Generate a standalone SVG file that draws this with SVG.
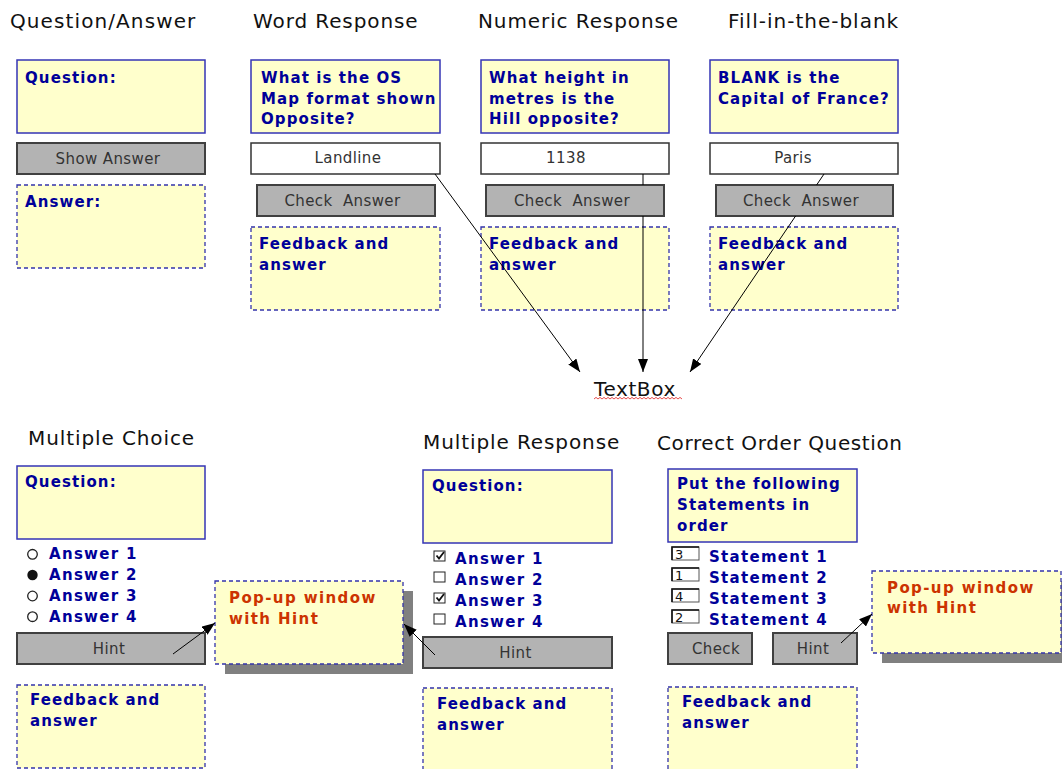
<svg xmlns="http://www.w3.org/2000/svg" width="1062" height="769" viewBox="0 0 1062 769">
<style>
.q{fill:#ffffcc;stroke:#3535b5;stroke-width:1.5}
.fb{fill:#ffffcc;stroke:#3333aa;stroke-width:1.3;stroke-dasharray:4 3}
.btn{fill:#b3b3b3;stroke:#404040;stroke-width:2}
.fld{fill:#ffffff;stroke:#333333;stroke-width:1.5}
.sh{fill:#808080}
.title{font-family:"DejaVu Sans","Liberation Sans",sans-serif;font-size:20px;fill:#111111;letter-spacing:0.9px}
.bt{font-family:"DejaVu Sans","Liberation Sans",sans-serif;font-size:15px;font-weight:bold;fill:#000099;letter-spacing:1.1px}
.pop{font-family:"DejaVu Sans","Liberation Sans",sans-serif;font-size:15px;font-weight:bold;fill:#cc3300;letter-spacing:1.4px}
.bx{font-family:"DejaVu Sans","Liberation Sans",sans-serif;font-size:15px;fill:#333333;letter-spacing:0.4px;text-anchor:middle}
.num{font-family:"DejaVu Sans","Liberation Sans",sans-serif;font-size:13px;fill:#111111}
.nb{fill:#ffffff;stroke:#555555;stroke-width:1}
.nbe{fill:none;stroke:#111111;stroke-width:1.6}
.rad{fill:#ffffff;stroke:#222222;stroke-width:1.3}
.chk{fill:#ffffff;stroke:#222222;stroke-width:1}
.conn{fill:none;stroke:#000000;stroke-width:1}
</style>
<defs>
<marker id="ah" markerUnits="userSpaceOnUse" markerWidth="13" markerHeight="10" refX="13" refY="5" orient="auto">
<path d="M0,0 L13,5 L0,10 z" fill="#000000"/>
</marker>
<clipPath id="wrclip"><rect x="251" y="60" width="189" height="73"/></clipPath>
</defs>
<rect width="1062" height="769" fill="#ffffff"/>

<g id="titles">
<text class="title" x="10" y="28" style="letter-spacing:1.1px">Question/Answer</text>
<text class="title" x="253" y="28">Word Response</text>
<text class="title" x="478" y="28">Numeric Response</text>
<text class="title" x="728" y="28" style="letter-spacing:1px">Fill-in-the-blank</text>
<text class="title" x="28" y="445">Multiple Choice</text>
<text class="title" x="423" y="449">Multiple Response</text>
<text class="title" x="657" y="450" style="letter-spacing:0.62px">Correct Order Question</text>
</g>

<!-- Question/Answer -->
<g id="qa-question"><rect class="q" x="17" y="60" width="188" height="73"/><text class="bt" x="25" y="82.5">Question:</text></g>
<g id="qa-answer"><rect class="fb" x="17" y="185" width="188" height="83"/><text class="bt" x="25" y="207">Answer:</text></g>

<!-- Word Response -->
<g id="wr-question"><rect class="q" x="251" y="60" width="189" height="73"/>
<g clip-path="url(#wrclip)"><text class="bt" x="261" y="82.5">What is the OS</text><text class="bt" x="261" y="103.5">Map format shown</text><text class="bt" x="261" y="124">Opposite?</text></g></g>
<g id="wr-field"><rect class="fld" x="251" y="143" width="189" height="31"/><text class="bx" x="348" y="163">Landline</text></g>
<g id="wr-feedback"><rect class="fb" x="251" y="227" width="189" height="83"/><text class="bt" x="259" y="249">Feedback and</text><text class="bt" x="259" y="270">answer</text></g>

<!-- Numeric Response -->
<g id="nr-question"><rect class="q" x="481" y="60" width="188" height="73"/><text class="bt" x="489" y="82.5">What height in</text><text class="bt" x="489" y="103.5">metres is the</text><text class="bt" x="489" y="124">Hill opposite?</text></g>
<g id="nr-field"><rect class="fld" x="481" y="143" width="188" height="31"/><text class="bx" x="566" y="163">1138</text></g>
<g id="nr-feedback"><rect class="fb" x="481" y="227" width="188" height="83"/><text class="bt" x="489" y="249">Feedback and</text><text class="bt" x="489" y="270">answer</text></g>

<!-- Fill in the blank -->
<g id="fb-question"><rect class="q" x="710" y="60" width="188" height="73"/><text class="bt" x="718" y="82.5">BLANK is the</text><text class="bt" x="718" y="103.5">Capital of France?</text></g>
<g id="fb-field"><rect class="fld" x="710" y="143" width="188" height="31"/><text class="bx" x="793" y="163">Paris</text></g>
<g id="fb-feedback"><rect class="fb" x="710" y="227" width="188" height="83"/><text class="bt" x="718" y="249">Feedback and</text><text class="bt" x="718" y="270">answer</text></g>

<!-- TextBox label -->
<g id="textbox">
<text class="title" x="594" y="396" style="letter-spacing:0.6px">TextBox</text>
<path d="M594 399 l2 -1.6 l2 1.6 l2 -1.6 l2 1.6 l2 -1.6 l2 1.6 l2 -1.6 l2 1.6 l2 -1.6 l2 1.6 l2 -1.6 l2 1.6 l2 -1.6 l2 1.6 l2 -1.6 l2 1.6 l2 -1.6 l2 1.6 l2 -1.6 l2 1.6 l2 -1.6 l2 1.6 l2 -1.6 l2 1.6 l2 -1.6 l2 1.6 l2 -1.6 l2 1.6 l2 -1.6 l2 1.6 l2 -1.6 l2 1.6 l2 -1.6 l2 1.6 l2 -1.6 l2 1.6 l2 -1.6 l2 1.6 l2 -1.6 l2 1.6 l2 -1.6 l2 1.6 l2 -1.6 l2 1.6" fill="none" stroke="#e02020" stroke-width="0.8"/>
</g>

<!-- Multiple Choice -->
<g id="mc-question"><rect class="q" x="17" y="466" width="188" height="73"/><text class="bt" x="25" y="487">Question:</text></g>
<g id="mc-options">
<circle class="rad" cx="32.5" cy="554.3" r="4.8"/>
<circle cx="32.5" cy="575" r="5.2" fill="#111111"/>
<circle class="rad" cx="32.5" cy="596" r="4.8"/>
<circle class="rad" cx="32.5" cy="616.7" r="4.8"/>
<text class="bt" x="49" y="559" style="letter-spacing:1.3px">Answer 1</text>
<text class="bt" x="49" y="580" style="letter-spacing:1.3px">Answer 2</text>
<text class="bt" x="49" y="601" style="letter-spacing:1.3px">Answer 3</text>
<text class="bt" x="49" y="622" style="letter-spacing:1.3px">Answer 4</text>
</g>
<g id="mc-feedback"><rect class="fb" x="17" y="685" width="188" height="83"/><text class="bt" x="30" y="705">Feedback and</text><text class="bt" x="30" y="726">answer</text></g>
<g id="mc-popup"><rect class="sh" x="225" y="591" width="188" height="83"/><rect class="fb" x="215" y="581" width="188" height="83"/><text class="pop" x="229" y="603">Pop-up window</text><text class="pop" x="229" y="624">with Hint</text></g>

<!-- Multiple Response -->
<g id="mr-question"><rect class="q" x="423" y="470" width="189" height="73"/><text class="bt" x="432" y="491">Question:</text></g>
<g id="mr-options">
<rect class="chk" x="434" y="551" width="11" height="10"/>
<path d="M436.5 555.5 L439 558.5 L444 552" fill="none" stroke="#111111" stroke-width="1.8"/>
<rect class="chk" x="434" y="572" width="11" height="10"/>
<rect class="chk" x="434" y="593" width="11" height="10"/>
<path d="M436.5 597.5 L439 600.5 L444 594" fill="none" stroke="#111111" stroke-width="1.8"/>
<rect class="chk" x="434" y="614" width="11" height="10"/>
<text class="bt" x="455" y="564" style="letter-spacing:1.3px">Answer 1</text>
<text class="bt" x="455" y="585" style="letter-spacing:1.3px">Answer 2</text>
<text class="bt" x="455" y="606" style="letter-spacing:1.3px">Answer 3</text>
<text class="bt" x="455" y="627" style="letter-spacing:1.3px">Answer 4</text>
</g>
<g id="mr-feedback"><rect class="fb" x="423" y="688" width="189" height="83"/><text class="bt" x="437" y="709">Feedback and</text><text class="bt" x="437" y="730">answer</text></g>

<!-- Correct Order -->
<g id="co-question"><rect class="q" x="668" y="469" width="189" height="73"/><text class="bt" x="677" y="489">Put the following</text><text class="bt" x="677" y="510">Statements in</text><text class="bt" x="677" y="531">order</text></g>
<g id="co-statements">
<rect class="nb" x="672" y="547" width="27" height="13"/><path class="nbe" d="M672 560 V547 H699"/><text class="num" x="675" y="559">3</text>
<rect class="nb" x="672" y="568" width="27" height="13"/><path class="nbe" d="M672 581 V568 H699"/><text class="num" x="675" y="580">1</text>
<rect class="nb" x="672" y="589" width="27" height="13"/><path class="nbe" d="M672 602 V589 H699"/><text class="num" x="675" y="601">4</text>
<rect class="nb" x="672" y="610" width="27" height="13"/><path class="nbe" d="M672 623 V610 H699"/><text class="num" x="675" y="622">2</text>
<text class="bt" x="709" y="562" style="letter-spacing:1.3px">Statement 1</text>
<text class="bt" x="709" y="583" style="letter-spacing:1.3px">Statement 2</text>
<text class="bt" x="709" y="604" style="letter-spacing:1.3px">Statement 3</text>
<text class="bt" x="709" y="625" style="letter-spacing:1.3px">Statement 4</text>
</g>
<g id="co-feedback"><rect class="fb" x="668" y="687" width="189" height="83"/><text class="bt" x="682" y="707">Feedback and</text><text class="bt" x="682" y="728">answer</text></g>
<g id="co-popup"><rect class="sh" x="882" y="581" width="180" height="82"/><rect class="fb" x="872" y="571" width="189" height="82"/><text class="pop" x="887" y="593">Pop-up window</text><text class="pop" x="887" y="613">with Hint</text></g>

<!-- Buttons -->
<g id="qa-button"><rect class="btn" x="17" y="143" width="188" height="31"/><text class="bx" x="108" y="163.5">Show Answer</text></g>
<g id="wr-button"><rect class="btn" x="257" y="185" width="178" height="31"/><text class="bx" x="342.5" y="205.5">Check&#160; Answer</text></g>
<g id="nr-button"><rect class="btn" x="486" y="185" width="178" height="31"/><text class="bx" x="572" y="205.5">Check&#160; Answer</text></g>
<g id="fb-button"><rect class="btn" x="716" y="185" width="177" height="31"/><text class="bx" x="801" y="205.5">Check&#160; Answer</text></g>
<g id="mc-button"><rect class="btn" x="17" y="633" width="188" height="31"/><text class="bx" x="109" y="653.5">Hint</text></g>
<g id="mr-button"><rect class="btn" x="423" y="637" width="189" height="31"/><text class="bx" x="515.5" y="657.5">Hint</text></g>
<g id="co-check"><rect class="btn" x="668" y="633" width="84" height="31"/><text class="bx" x="716" y="653.5">Check</text></g>
<g id="co-hint"><rect class="btn" x="773" y="633" width="84" height="31"/><text class="bx" x="813" y="653.5">Hint</text></g>

<!-- Connectors -->
<g id="connectors">
<path class="conn" d="M435 174 L580 372" marker-end="url(#ah)"/>
<path class="conn" d="M643 174 L643 185 M643 216 L643 372" marker-end="url(#ah)"/>
<path class="conn" d="M824 174 L816.6 185 M795.6 216 L690 372" marker-end="url(#ah)"/>
<path class="conn" d="M173 654 L215 623" marker-end="url(#ah)"/>
<path class="conn" d="M435 655 L404 624" marker-end="url(#ah)"/>
<path class="conn" d="M841 643 L872 614" marker-end="url(#ah)"/>
</g>
</svg>
